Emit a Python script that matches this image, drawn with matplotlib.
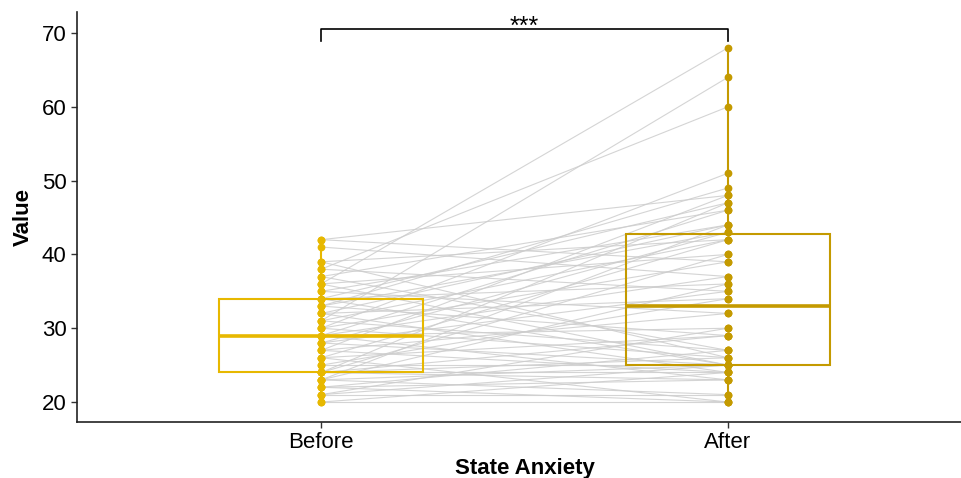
import matplotlib
matplotlib.use("Agg")
import matplotlib.pyplot as plt
import numpy as np

plt.rcParams['font.family'] = ['Liberation Sans', 'DejaVu Sans']

categories = ["Before", "After"]
before = [20, 20, 21, 21, 21, 22, 22, 22, 23, 23, 23, 23, 24, 24, 24, 24, 24, 24,
          25, 25, 26, 26, 26, 27, 27, 27, 28, 28, 28, 29, 29, 29, 29, 30, 30, 30,
          31, 31, 31, 32, 32, 32, 33, 33, 33, 34, 34, 34, 35, 35, 36, 36, 36, 37,
          37, 38, 38, 39, 39, 41, 42, 42]
after = [20, 24, 21, 25, 30, 20, 23, 27, 21, 25, 36, 44, 23, 24, 26, 29, 40, 47,
         25, 34, 20, 29, 42, 24, 32, 48, 25, 35, 43, 23, 30, 37, 46, 26, 39, 51,
         27, 42, 64, 24, 34, 44, 29, 43, 49, 25, 36, 47, 32, 44, 25, 68, 40, 27,
         46, 35, 60, 26, 42, 37, 39, 48]
colors = ["#E7B800", "#C49A00"]
signif = "***"

fig = plt.figure(figsize=(9.61, 4.78), dpi=100)
ax = fig.add_axes([77 / 961, 56.5 / 478, 895 / 961, 409.5 / 478])

# paired lines
for b, a in zip(before, after):
    ax.plot([0, 1], [b, a], color="#CDCDCD", lw=0.8, alpha=0.85, zorder=1)

# boxplots
for i, (vals, c) in enumerate(zip([before, after], colors)):
    ax.boxplot([vals], positions=[i], widths=0.5, whis=1.5, showfliers=False,
               patch_artist=True, showcaps=False,
               boxprops=dict(facecolor="none", edgecolor=c, linewidth=1.5),
               whiskerprops=dict(color=c, linewidth=1.5),
               medianprops=dict(color=c, linewidth=2.6),
               zorder=2)
    ax.plot([i] * len(vals), vals, "o", color=c, markersize=5.6, zorder=3,
            markeredgewidth=0)

# significance bracket
yb, yt = 68.9, 70.5
ax.plot([0, 0, 1, 1], [yb, yt, yt, yb], color="black", lw=1.2, zorder=4)
ax.text(0.5, 69.95, signif, ha="center", va="baseline", fontsize=18)

ax.set_xlim(-0.6, 1.6)
ax.set_ylim(17.36, 72.85)
ax.set_xticks([0, 1])
ax.set_xticklabels(categories, fontsize=16)
ax.set_yticks([20, 30, 40, 50, 60, 70])
ax.tick_params(axis="both", labelsize=16, length=4, width=1, color="#333333")
ax.set_xlabel("State Anxiety", fontsize=16, fontweight="bold", labelpad=4)
ax.set_ylabel("Value", fontsize=16, fontweight="bold", labelpad=6)
for s in ["top", "right"]:
    ax.spines[s].set_visible(False)
for s in ["left", "bottom"]:
    ax.spines[s].set_linewidth(1.2)
    ax.spines[s].set_color("#222222")

fig.savefig("out.png", dpi=100)
